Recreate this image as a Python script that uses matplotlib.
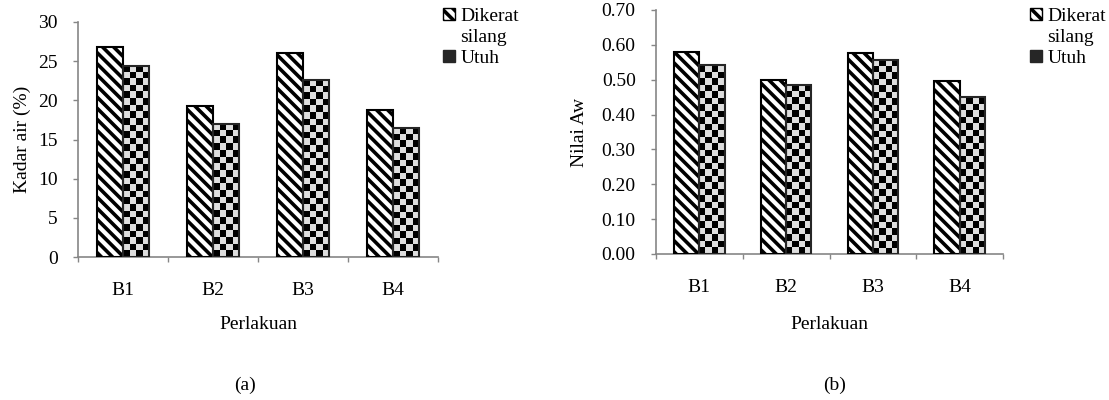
import numpy as np
import matplotlib
matplotlib.use('Agg')
import matplotlib.pyplot as plt
from matplotlib.patches import Patch

# data
perlakuan = ['B1', 'B2', 'B3', 'B4']
kadar_dikerat = [26.8, 19.3, 26.0, 18.8]
kadar_utuh = [24.4, 17.0, 22.6, 16.5]
aw_dikerat = [0.579, 0.499, 0.577, 0.497]
aw_utuh = [0.542, 0.485, 0.557, 0.449]

plt.rcParams['font.family'] = ['Liberation Serif', 'DejaVu Serif']
plt.rcParams['font.size'] = 14
plt.rcParams['hatch.linewidth'] = 2.6

W, H = 1109, 400
fig = plt.figure(figsize=(W / 100, H / 100), dpi=100)
grey = '#868686'
dark = '#262626'
bw = 0.29
cell = 6.5  # checker cell size in pixels
stripes = '\\\\\\'


def checker_bars(ax, x, vals, ymax, ax_h_px):
    # checkerboard fill of each "Utuh" bar, drawn as a small image
    for xi, v in zip(x, vals):
        nrow = max(1, int(round(v / ymax * ax_h_px / cell)))
        ii, jj = np.indices((nrow, 4))
        pat = ((ii + jj) % 2).astype(float)
        ax.imshow(pat, cmap='gray', vmin=0, vmax=1.15, interpolation='nearest',
                  extent=(xi, xi + bw, 0, v), origin='lower', aspect='auto', zorder=2)
    ax.bar(x, vals, width=bw, align='edge', facecolor='none', edgecolor=dark,
           linewidth=1.5, zorder=3)


def panel(rect, d1, d2, ymax, step, fmt, ylabel, ylab_x, xlab_y, leg_x, letter, letter_x):
    ax = fig.add_axes(rect)
    x = np.arange(len(perlakuan))
    ax.bar(x - bw, d1, width=bw, align='edge', facecolor='white', edgecolor='black',
           hatch=stripes, linewidth=1.5, zorder=3)
    checker_bars(ax, x, d2, ymax, rect[3] * H)
    ax.set_xlim(-0.5, len(perlakuan) - 0.5)
    ax.set_ylim(0, ymax)
    yt = np.arange(0, ymax + step / 2, step)
    ax.set_yticks(yt)
    ax.set_yticklabels([fmt % v for v in yt])
    ax.set_xticks(np.arange(-0.5, len(perlakuan), 1.0))
    ax.set_xticklabels([])
    ax.set_xticks(x, minor=True)
    ax.set_xticklabels(perlakuan, minor=True)
    ax.tick_params(axis='x', which='major', direction='out', length=3.6, color=grey, width=1)
    ax.tick_params(axis='x', which='minor', length=0, pad=18)
    ax.tick_params(axis='y', direction='out', length=3.6, color=grey, width=1, pad=11)
    for s in ['top', 'right']:
        ax.spines[s].set_visible(False)
    for s in ['left', 'bottom']:
        ax.spines[s].set_color(grey)
        ax.spines[s].set_linewidth(1.2)
    ax.set_ylabel(ylabel)
    ax.yaxis.set_label_coords(ylab_x, 0.5)
    ax.set_xlabel('Perlakuan')
    ax.xaxis.set_label_coords(0.5, xlab_y)

    h1 = Patch(facecolor='white', edgecolor='black', hatch=stripes, linewidth=1)
    h2 = Patch(facecolor=dark, edgecolor=dark, linewidth=1)
    h0 = Patch(facecolor='none', edgecolor='none')
    ax.legend([h1, h0, h2], ['Dikerat', 'silang', 'Utuh'], loc='upper left',
              bbox_to_anchor=(leg_x / W, 1 - 8 / H), bbox_transform=fig.transFigure,
              frameon=False, borderpad=0, borderaxespad=0, handlelength=0.6,
              handleheight=0.6, handletextpad=0.3, labelspacing=0.2,
              prop={'family': 'Liberation Serif', 'size': 14})
    fig.text(letter_x / W, 1 - 385 / H, letter, ha='center', va='center')
    return ax


panel([78 / W, 1 - 257 / H, 360 / W, 235 / H], kadar_dikerat, kadar_utuh, 30, 5, '%d',
      'Kadar air (%)', -0.13, -0.25, 443, '(a)', 245)
panel([656 / W, 1 - 254 / H, 347 / W, 244 / H], aw_dikerat, aw_utuh, 0.70, 0.10, '%.2f',
      'Nilai Aw', -0.196, -0.254, 1030, '(b)', 835)

plt.savefig('out.png', dpi=100)
